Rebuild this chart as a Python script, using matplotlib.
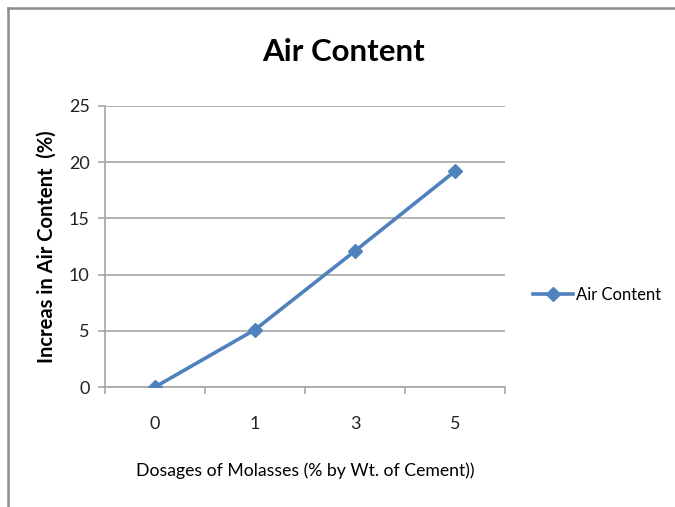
import matplotlib
matplotlib.use("Agg")
import matplotlib.pyplot as plt
from matplotlib.lines import Line2D
from matplotlib.ticker import FixedLocator, NullFormatter, FixedFormatter

categories = ["0", "1", "3", "5"]
air_content = [0.0, 5.1, 12.1, 19.2]
yticks = [0, 5, 10, 15, 20, 25]

FONT = ["Lato", "DejaVu Sans"]
plt.rcParams['font.family'] = FONT

fig = plt.figure(figsize=(6.75, 5.07), dpi=100)
ax = fig.add_axes([105/675, 1-387/507, 400/675, (387-106)/507])

x = list(range(len(categories)))
ax.plot(x, air_content, color="#4F81BD", lw=2.6, marker="D", markersize=7.5,
        label="Air Content", zorder=3)

ax.set_xlim(-0.5, len(categories)-0.5)
ax.set_ylim(0, 25)
ax.set_yticks(yticks)
ax.yaxis.grid(True, color="#A6A6A6", lw=1.2)
ax.set_axisbelow(True)

ax.xaxis.set_major_locator(FixedLocator([i-0.5 for i in range(len(categories)+1)]))
ax.xaxis.set_major_formatter(NullFormatter())
ax.xaxis.set_minor_locator(FixedLocator(x))
ax.xaxis.set_minor_formatter(FixedFormatter(categories))
ax.tick_params(axis='x', which='major', length=5, color="#A6A6A6", width=1.2)
ax.tick_params(axis='x', which='minor', length=0, labelsize=13, pad=21, labelcolor="#222222")
ax.tick_params(axis='y', length=5, color="#A6A6A6", width=1.2, labelsize=13, pad=6, labelcolor="#222222")

for s in ["top", "right"]:
    ax.spines[s].set_visible(False)
for s in ["left", "bottom"]:
    ax.spines[s].set_color("#A6A6A6")
    ax.spines[s].set_linewidth(1.2)

ax.set_xlabel("Dosages of Molasses (% by Wt. of Cement))", fontsize=12.7, labelpad=22)
ax.set_ylabel("Increas in Air Content  (%)", fontsize=14.5, fontweight="bold", labelpad=9)

fig.text(344/675, 1-52/507, "Air Content", ha="center", va="center",
         fontsize=22.5, fontweight="bold")

ax.legend(loc="center left", bbox_to_anchor=(533/675, 1-295/507),
          bbox_transform=fig.transFigure, frameon=False, fontsize=12,
          handlelength=2.4, handletextpad=0.15, borderaxespad=0, borderpad=0)

fig.add_artist(Line2D([7.5/675, 1], [1-7.5/507, 1-7.5/507], transform=fig.transFigure,
                      color="#8C8C8C", lw=1.8))
fig.add_artist(Line2D([7.5/675, 7.5/675], [0, 1-7.5/507], transform=fig.transFigure,
                      color="#8C8C8C", lw=1.8))

fig.savefig("out.png", dpi=100)
